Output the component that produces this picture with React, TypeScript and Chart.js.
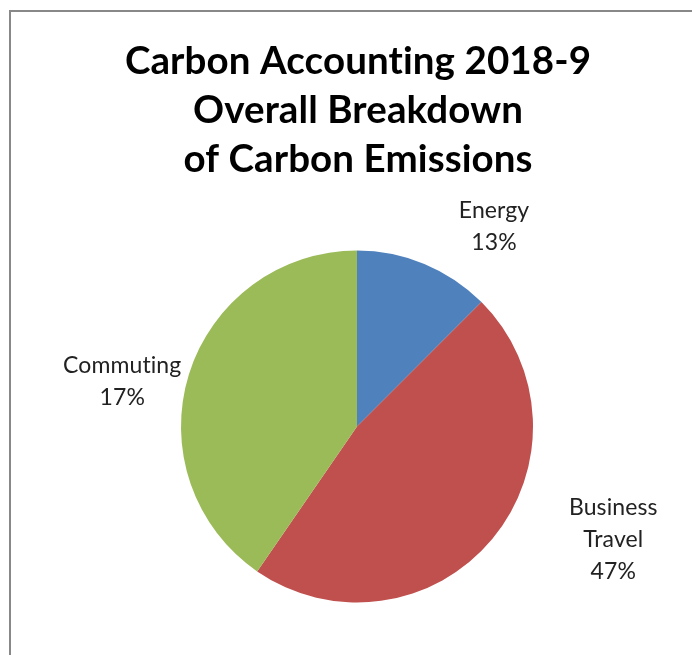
import React, { useEffect, useRef } from "react";
import { Chart, registerables } from "chart.js";

Chart.register(...registerables);

const categories = ["Energy", "Business Travel", "Commuting"];
const categoryLines = [["Energy"], ["Business", "Travel"], ["Commuting"]];
const sliceValues = [12.5, 47.1, 40.4];
const percentLabels = ["13%", "47%", "17%"];
const sliceColors = ["#4F81BD", "#C0504D", "#9BBB59"];
const titleLines = ["Carbon Accounting 2018-9", "Overall Breakdown", "of Carbon Emissions"];

const FONT = "Lato, 'Open Sans', sans-serif";

// per-label placement relative to the slice mid-angle (style, not data)
const labelAngleShift = [12, -16, -6.5];
const labelExtraDist = [66, 104, 63];

const overlayPlugin = {
  id: "overlay",
  afterDraw(chart: any) {
    const ctx = chart.ctx as CanvasRenderingContext2D;
    ctx.save();
    (ctx as any).letterSpacing = "0.1px";
    // title
    ctx.fillStyle = "#000";
    ctx.textAlign = "center";
    ctx.textBaseline = "middle";
    ctx.font = `bold 38.5px ${FONT}`;
    titleLines.forEach((t, i) => ctx.fillText(t, 358, 62 + i * 49));
    // data labels
    const meta = chart.getDatasetMeta(0);
    ctx.font = `23px ${FONT}`;
    ctx.fillStyle = "#222";
    meta.data.forEach((arc: any, i: number) => {
      const { x, y, startAngle, endAngle, outerRadius } = arc.getProps(
        ["x", "y", "startAngle", "endAngle", "outerRadius"],
        true
      );
      const mid = (startAngle + endAngle) / 2 + (labelAngleShift[i] * Math.PI) / 180;
      const d = outerRadius + labelExtraDist[i];
      const cx = x + Math.cos(mid) * d;
      const cy = y + Math.sin(mid) * d;
      const lines = [...categoryLines[i], percentLabels[i]];
      const lh = 32;
      const top = cy - ((lines.length - 1) * lh) / 2;
      lines.forEach((l, j) => ctx.fillText(l, cx, top + j * lh));
    });
    ctx.restore();
  },
};

export default function App() {
  const ref = useRef<HTMLCanvasElement | null>(null);
  useEffect(() => {
    if (!ref.current) return;
    const chart = new Chart(ref.current, {
      type: "pie",
      data: {
        labels: categories,
        datasets: [
          {
            data: sliceValues,
            backgroundColor: sliceColors,
            borderWidth: 0,
          },
        ],
      },
      options: {
        animation: false,
        responsive: false,
        devicePixelRatio: 1,
        layout: { padding: { left: 181, right: 159, top: 250, bottom: 52 } },
        plugins: {
          legend: { display: false },
          title: { display: false },
          tooltip: { enabled: false },
        },
      },
      plugins: [overlayPlugin],
    });
    return () => chart.destroy();
  }, []);
  return (
    <div style={{ position: "fixed", left: 0, top: 0, width: 692, height: 655, background: "#fff", overflow: "hidden" }}>
      <div
        style={{
          position: "absolute",
          left: 9,
          top: 10,
          width: 800,
          height: 800,
          border: "2px solid #888",
          boxSizing: "border-box",
        }}
      />
      <canvas ref={ref} width={692} height={655} style={{ position: "absolute", left: 0, top: 0 }} />
    </div>
  );
}
